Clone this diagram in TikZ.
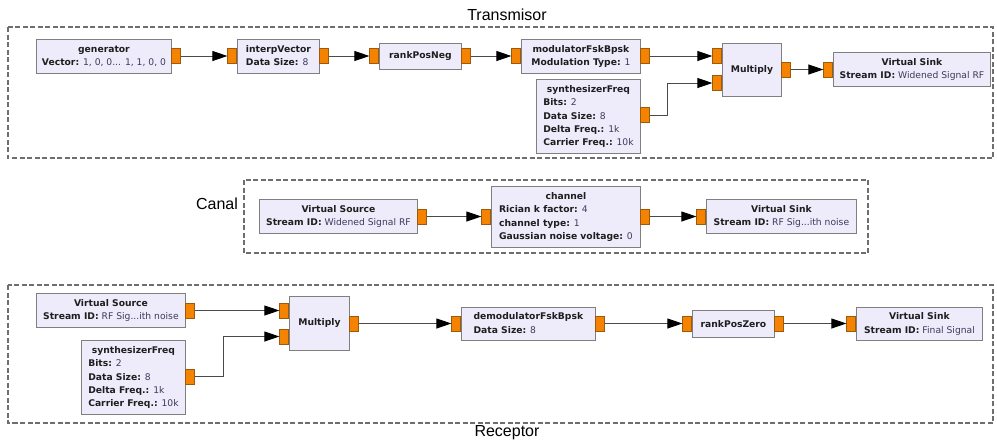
\documentclass[tikz,border=0pt]{standalone}
\usepackage{fontspec}
\setmainfont{DejaVu Sans}
\newfontfamily\titlefont{Liberation Sans}
\usetikzlibrary{arrows.meta}
\definecolor{blkfill}{HTML}{EEEBFB}
\definecolor{blkdraw}{HTML}{7F7F7F}
\definecolor{portfill}{HTML}{F58300}
\definecolor{portdraw}{HTML}{9A5A10}
\definecolor{valcol}{HTML}{3C3C5A}
\definecolor{keycol}{HTML}{1E1E1E}
\definecolor{wirecol}{HTML}{4A4A4A}
\definecolor{framecol}{HTML}{6E6E6E}
\newcommand{\kv}[2]{\textbf{#1:} {\color{valcol}#2}}
\newcommand{\blktitle}[1]{\multicolumn{1}{@{}c@{}}{\textbf{#1}}}
\begin{document}
\begin{tikzpicture}[x=1pt,y=-1pt,
  blk/.style={draw=blkdraw, fill=blkfill, line width=0.9pt, inner sep=0pt, anchor=north west,
    font=\fontsize{9.2}{13.2}\selectfont, text=keycol},
  port/.style={draw=portdraw, fill=portfill, line width=0.6pt, minimum width=9pt, minimum height=15pt, inner sep=0pt},
  wire/.style={draw=wirecol, line width=0.9pt, -{Triangle[length=15pt,width=10pt,color=black]}},
  frame/.style={draw=framecol, line width=1.1pt, dash pattern=on 5pt off 2.5pt},
  grouptitle/.style={font=\titlefont\fontsize{16}{18}\selectfont, text=black, inner sep=0pt}]
\useasboundingbox (0,0) rectangle (997,440);
% frames
\draw[frame] (8,27) rectangle (993,158);
\draw[frame] (244,180) rectangle (868,253);
\draw[frame] (8,285) rectangle (993,423);
\node[grouptitle] (ttx) at (507,15) {Transmisor};
\node[grouptitle] (tch) at (217,204) {Canal};
\node[grouptitle] (trx) at (507,433) {Receptor};
% ---------- Transmisor ----------
\node[blk, minimum width=135pt, minimum height=34pt] (gen) at (36,39)
  {\begin{tabular}{@{}l@{}}\blktitle{generator}\\ \kv{Vector}{1, 0, 0... 1, 1, 0, 0}\end{tabular}};
\node[blk, minimum width=82pt, minimum height=34pt] (interp) at (237,39)
  {\begin{tabular}{@{}l@{}}\blktitle{interpVector}\\ \kv{Data Size}{8}\end{tabular}};
\node[blk, minimum width=82pt, minimum height=26pt] (rpn) at (379,43)
  {\textbf{rankPosNeg}};
\node[blk, minimum width=119pt, minimum height=34pt] (mod) at (521,39)
  {\begin{tabular}{@{}l@{}}\blktitle{modulatorFskBpsk}\\ \kv{Modulation Type}{1}\end{tabular}};
\node[blk, minimum width=104pt, minimum height=74pt] (syn1) at (536,79)
  {\begin{tabular}{@{}l@{}}\blktitle{synthesizerFreq}\\ \kv{Bits}{2}\\ \kv{Data Size}{8}\\ \kv{Delta Freq.}{1k}\\ \kv{Carrier Freq.}{10k}\end{tabular}};
\node[blk, minimum width=59pt, minimum height=53pt] (mul1) at (722,43)
  {\textbf{Multiply}};
\node[blk, minimum width=157pt, minimum height=34pt] (vs1) at (833,52)
  {\begin{tabular}{@{}l@{}}\blktitle{Virtual Sink}\\ \kv{Stream ID}{Widened Signal RF}\end{tabular}};
\node[port, anchor=west] (gen-o) at (171,56) {};
\node[port, anchor=east] (interp-i) at (237,56) {};
\node[port, anchor=west] (interp-o) at (319,56) {};
\node[port, anchor=east] (rpn-i) at (379,56) {};
\node[port, anchor=west] (rpn-o) at (461,56) {};
\node[port, anchor=east] (mod-i) at (521,56) {};
\node[port, anchor=west] (mod-o) at (640,56) {};
\node[port, anchor=west] (syn1-o) at (640,115) {};
\node[port, anchor=east] (mul1-a) at (722,56) {};
\node[port, anchor=east] (mul1-b) at (722,83) {};
\node[port, anchor=west] (mul1-o) at (781,69.5) {};
\node[port, anchor=east] (vs1-i) at (833,69.5) {};
\draw[wire] (gen-o.east) -- (interp-i.west);
\draw[wire] (interp-o.east) -- (rpn-i.west);
\draw[wire] (rpn-o.east) -- (mod-i.west);
\draw[wire] (mod-o.east) -- (mul1-a.west);
\draw[wire] (syn1-o.east) -- ++(18,0) |- (mul1-b.west);
\draw[wire] (mul1-o.east) -- (vs1-i.west);
% ---------- Canal ----------
\node[blk, minimum width=158pt, minimum height=34pt] (vsrc1) at (259,199)
  {\begin{tabular}{@{}l@{}}\blktitle{Virtual Source}\\ \kv{Stream ID}{Widened Signal RF}\end{tabular}};
\node[blk, minimum width=149pt, minimum height=61pt] (chan) at (491,186)
  {\begin{tabular}{@{}l@{}}\blktitle{channel}\\ \kv{Rician k factor}{4}\\ \kv{channel type}{1}\\ \kv{Gaussian noise voltage}{0}\end{tabular}};
\node[blk, minimum width=150pt, minimum height=34pt] (vs2) at (706,199)
  {\begin{tabular}{@{}l@{}}\blktitle{Virtual Sink}\\ \kv{Stream ID}{RF Sig...ith noise}\end{tabular}};
\node[port, anchor=west] (vsrc1-o) at (417,216.5) {};
\node[port, anchor=east] (chan-i) at (491,216.5) {};
\node[port, anchor=west] (chan-o) at (640,216.5) {};
\node[port, anchor=east] (vs2-i) at (706,216.5) {};
\draw[wire] (vsrc1-o.east) -- (chan-i.west);
\draw[wire] (chan-o.east) -- (vs2-i.west);
% ---------- Receptor ----------
\node[blk, minimum width=149pt, minimum height=34pt] (vsrc2) at (36,293)
  {\begin{tabular}{@{}l@{}}\blktitle{Virtual Source}\\ \kv{Stream ID}{RF Sig...ith noise}\end{tabular}};
\node[blk, minimum width=104pt, minimum height=74pt] (syn2) at (81,340)
  {\begin{tabular}{@{}l@{}}\blktitle{synthesizerFreq}\\ \kv{Bits}{2}\\ \kv{Data Size}{8}\\ \kv{Delta Freq.}{1k}\\ \kv{Carrier Freq.}{10k}\end{tabular}};
\node[blk, minimum width=60pt, minimum height=54pt] (mul2) at (289,296)
  {\textbf{Multiply}};
\node[blk, minimum width=134pt, minimum height=33pt] (demod) at (461,307)
  {\begin{tabular}{@{}l@{}}\blktitle{demodulatorFskBpsk}\\ \kv{Data Size}{8}\end{tabular}};
\node[blk, minimum width=82pt, minimum height=27pt] (rpz) at (692,310)
  {\textbf{rankPosZero}};
\node[blk, minimum width=126pt, minimum height=33pt] (vs3) at (856,307)
  {\begin{tabular}{@{}l@{}}\blktitle{Virtual Sink}\\ \kv{Stream ID}{Final Signal}\end{tabular}};
\node[port, anchor=west] (vsrc2-o) at (185,310.5) {};
\node[port, anchor=west] (syn2-o) at (185,376.5) {};
\node[port, anchor=east] (mul2-a) at (289,310.5) {};
\node[port, anchor=east] (mul2-b) at (289,336.5) {};
\node[port, anchor=west] (mul2-o) at (349,323.5) {};
\node[port, anchor=east] (demod-i) at (461,323.5) {};
\node[port, anchor=west] (demod-o) at (595,323.5) {};
\node[port, anchor=east] (rpz-i) at (692,323.5) {};
\node[port, anchor=west] (rpz-o) at (774,323.5) {};
\node[port, anchor=east] (vs3-i) at (856,323.5) {};
\draw[wire] (vsrc2-o.east) -- (mul2-a.west);
\draw[wire] (syn2-o.east) -- ++(29,0) |- (mul2-b.west);
\draw[wire] (mul2-o.east) -- (demod-i.west);
\draw[wire] (demod-o.east) -- (rpz-i.west);
\draw[wire] (rpz-o.east) -- (vs3-i.west);
\end{tikzpicture}
\end{document}
